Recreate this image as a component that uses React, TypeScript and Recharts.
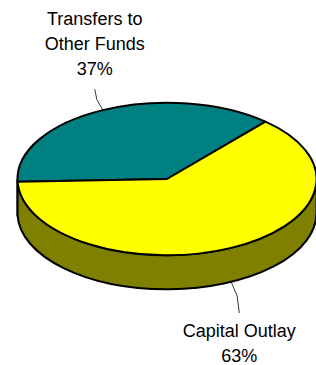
import React from "react";
import { Pie, PieChart } from "recharts";

const categories = ["Transfers to\nOther Funds", "Capital Outlay"];
const shares = [37, 63];
const topColors = ["#008080", "#ffff00"];
const sideColors = ["#005a5a", "#808000"];

const data = categories.map((name, i) => ({
  name,
  value: shares[i],
  fill: topColors[i],
  side: sideColors[i],
}));

const TILT = 0.51;
const DEPTH = 34;
const FONT = "'Liberation Sans', Arial, sans-serif";

const rad = (a: number) => (a * Math.PI) / 180;

function pt(cx: number, cy: number, r: number, a: number) {
  return [cx + r * Math.cos(rad(a)), cy - r * TILT * Math.sin(rad(a))];
}

function Slice3D(props: any) {
  const { cx, cy, outerRadius: r, startAngle, endAngle, payload } = props;
  const ry = r * TILT;
  const [sx, sy] = pt(cx, cy, r, startAngle);
  const [ex, ey] = pt(cx, cy, r, endAngle);
  const large = Math.abs(startAngle - endAngle) > 180 ? 1 : 0;
  const top = `M${cx},${cy} L${sx},${sy} A${r},${ry} 0 ${large} 1 ${ex},${ey} Z`;

  // front wall: parts of the slice lying in the lower half of the ellipse
  const lo = Math.min(startAngle, endAngle);
  const hi = Math.max(startAngle, endAngle);
  const walls: string[] = [];
  [-360, 0, 360].forEach((s) => {
    const a1 = Math.min(hi, s);
    const a2 = Math.max(lo, s - 180);
    if (a1 - a2 <= 0.01) return;
    const [x1, y1] = pt(cx, cy, r, a1);
    const [x2, y2] = pt(cx, cy, r, a2);
    walls.push(
      `M${x1},${y1} A${r},${ry} 0 0 1 ${x2},${y2} L${x2},${y2 + DEPTH} A${r},${ry} 0 0 0 ${x1},${y1 + DEPTH} Z`
    );
  });

  const fill = payload?.fill ?? props.fill;
  const side = payload?.side ?? "#808000";
  return (
    <g>
      {walls.map((d, i) => (
        <path key={i} d={d} fill={side} stroke="#000" strokeWidth={2} strokeLinejoin="round" />
      ))}
      <path d={top} fill={fill} stroke="#000" strokeWidth={2} strokeLinejoin="round" />
    </g>
  );
}

function renderLabel(props: any) {
  const { cx, cy, outerRadius: r, midAngle, percent, name } = props;
  const c = Math.cos(rad(midAngle));
  const up = Math.sin(rad(midAngle)) > 0;
  const [ex, ey0] = pt(cx, cy, r, midAngle);
  const ey = up ? ey0 : ey0 + DEPTH;
  const len = up ? 21 : 31;
  const mx = ex + c * 19;
  const my = up ? ey - len : ey + len;
  const bx = ex + c * 14;
  const by = up ? ey - len * 0.5 : ey + len * 0.45;
  const lines = [...String(name).split("\n"), `${Math.round(percent * 100)}%`];
  const tx = mx;
  const first = up ? my - 14 - (lines.length - 1) * 25 : my + 24;
  return (
    <g>
      <polyline
        points={`${ex},${ey} ${bx},${by} ${mx},${my}`}
        fill="none"
        stroke="#000"
        strokeWidth={0.8}
      />
      <text x={tx} y={first} textAnchor="middle" fontFamily={FONT} fontSize={18} fill="#000">
        {lines.map((l, i) => (
          <tspan key={i} x={tx} y={first + i * 25}>
            {l}
          </tspan>
        ))}
      </text>
    </g>
  );
}

export default function App() {
  return (
    <div style={{ position: "absolute", left: 0, top: 0, width: 316, height: 365, background: "#fff" }}>
      <PieChart width={316} height={365} margin={{ top: 0, right: 0, bottom: 0, left: 0 }}>
        <Pie
          data={data}
          dataKey="value"
          nameKey="name"
          cx={167}
          cy={179}
          outerRadius={149.5}
          startAngle={182}
          endAngle={-178}
          stroke="none"
          shape={Slice3D}
          label={renderLabel}
          labelLine={false}
          isAnimationActive={false}
        />
      </PieChart>
    </div>
  );
}
